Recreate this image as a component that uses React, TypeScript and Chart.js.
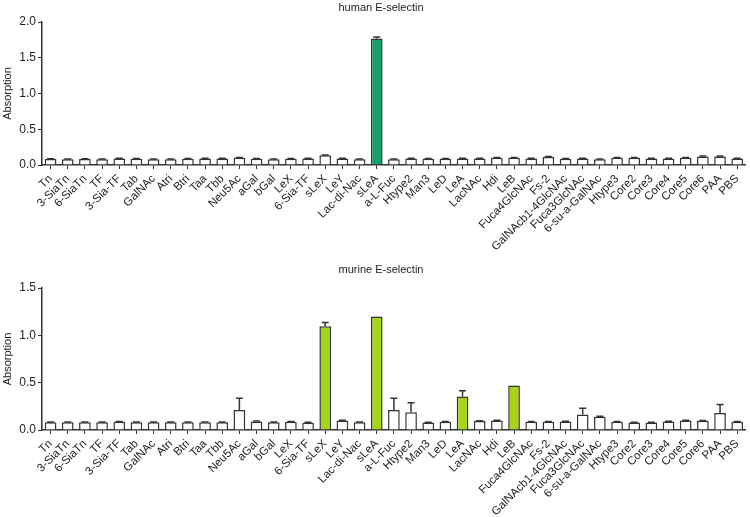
import React, { useEffect, useRef } from "react";
import { Chart, registerables } from "chart.js";

Chart.register(...registerables);

const categories = [
  "Tn", "3-SiaTn", "6-SiaTn", "TF", "3-Sia-TF", "Tab", "GalNAc", "Atri", "Btri", "Taa",
  "Tbb", "Neu5Ac", "aGal", "bGal", "LeX", "6-Sia-TF", "sLeX", "LeY", "Lac-di-Nac", "sLeA",
  "a-L-Fuc", "Htype2", "Man3", "LeD", "LeA", "LacNAc", "Hdi", "LeB", "Fuca4GlcNAc", "Fs-2",
  "GalNAcb1-4GlcNAc", "Fuca3GlcNAc", "6-su-a-GalNAc", "Htype3", "Core2", "Core3", "Core4", "Core5", "Core6", "PAA",
  "PBS",
];

const humanValues = [
  0.085, 0.082, 0.085, 0.082, 0.09, 0.088, 0.082, 0.082, 0.088, 0.09,
  0.09, 0.1, 0.088, 0.082, 0.088, 0.09, 0.135, 0.09, 0.082, 1.77,
  0.08, 0.09, 0.088, 0.088, 0.092, 0.092, 0.1, 0.1, 0.092, 0.112,
  0.088, 0.092, 0.08, 0.1, 0.1, 0.092, 0.09, 0.1, 0.12, 0.12,
  0.09,
];
const humanErrors = [
  0.004, 0.003, 0.004, 0.003, 0.005, 0.004, 0.003, 0.003, 0.004, 0.004,
  0.004, 0.005, 0.004, 0.003, 0.004, 0.004, 0.005, 0.004, 0.003, 0.02,
  0.003, 0.004, 0.004, 0.004, 0.004, 0.004, 0.005, 0.005, 0.004, 0.006,
  0.004, 0.004, 0.003, 0.005, 0.005, 0.004, 0.004, 0.005, 0.005, 0.005,
  0.004,
];
const humanHighlight = ["sLeA"];

const murineValues = [
  0.083, 0.083, 0.083, 0.083, 0.087, 0.083, 0.083, 0.083, 0.083, 0.083,
  0.083, 0.21, 0.09, 0.083, 0.087, 0.077, 1.096, 0.1, 0.083, 1.2,
  0.21, 0.188, 0.08, 0.087, 0.355, 0.094, 0.1, 0.47, 0.087, 0.087,
  0.09, 0.164, 0.14, 0.087, 0.08, 0.08, 0.09, 0.1, 0.097, 0.18,
  0.087,
];
const murineErrors = [
  0.002, 0.002, 0.002, 0.002, 0.004, 0.002, 0.002, 0.002, 0.002, 0.002,
  0.002, 0.125, 0.005, 0.002, 0.004, 0.004, 0.04, 0.002, 0.002, 0,
  0.125, 0.1, 0.002, 0.004, 0.06, 0.004, 0.004, 0, 0.002, 0.003,
  0.003, 0.066, 0.006, 0.002, 0.002, 0.002, 0.003, 0.003, 0.003, 0.09,
  0.003,
];
const murineHighlight = ["sLeX", "sLeA", "LeA", "LeB"];

const humanTicks = [0, 0.5, 1.0, 1.5, 2.0];
const murineTicks = [0, 0.5, 1.0, 1.5];

const AXIS = "#333333";
const FONT = "Arial, 'Liberation Sans', sans-serif";

const errorBarPlugin = {
  id: "errorBars",
  afterDatasetsDraw(chart: any, _args: any, opts: any) {
    const errs: number[] = opts.errors || [];
    const meta = chart.getDatasetMeta(0);
    const ys = chart.scales.y;
    const data = chart.data.datasets[0].data as number[];
    const ctx = chart.ctx;
    ctx.save();
    ctx.strokeStyle = AXIS;
    ctx.lineWidth = 1.5;
    meta.data.forEach((el: any, i: number) => {
      const e = errs[i] || 0;
      if (!e) return;
      const x = el.x;
      const y0 = ys.getPixelForValue(data[i]);
      const y1 = ys.getPixelForValue(data[i] + e);
      ctx.beginPath();
      ctx.moveTo(x, y0);
      ctx.lineTo(x, y1);
      ctx.moveTo(x - 3.5, y1);
      ctx.lineTo(x + 3.5, y1);
      ctx.stroke();
    });
    ctx.restore();
  },
};

const titlePlugin = {
  id: "panelTitle",
  afterDraw(chart: any, _args: any, opts: any) {
    const ctx = chart.ctx;
    ctx.save();
    ctx.fillStyle = "#222";
    ctx.font = `11px ${FONT}`;
    ctx.textAlign = "center";
    ctx.textBaseline = "middle";
    ctx.fillText(opts.text, opts.x, opts.y);
    ctx.restore();
  },
};

function Panel(props: {
  values: number[];
  errors: number[];
  highlight: string[];
  color: string;
  title: string;
  ticks: number[];
  top: number;
  height: number;
  padTop: number;
  xHeight: number;
  titleY: number;
}) {
  const ref = useRef<HTMLCanvasElement | null>(null);
  useEffect(() => {
    if (!ref.current) return;
    const colors = categories.map((c) => (props.highlight.includes(c) ? props.color : "#ffffff"));
    const maxV = props.ticks[props.ticks.length - 1];
    const chart = new Chart(ref.current, {
      type: "bar",
      data: {
        labels: categories,
        datasets: [
          {
            data: props.values,
            backgroundColor: colors,
            borderColor: AXIS,
            borderWidth: 1.5,
            barPercentage: 0.68,
            categoryPercentage: 1,
          },
        ],
      },
      plugins: [errorBarPlugin, titlePlugin],
      options: {
        animation: false,
        responsive: false,
        maintainAspectRatio: false,
        layout: { padding: { top: props.padTop, right: 4, left: 0, bottom: 0 } },
        plugins: {
          legend: { display: false },
          tooltip: { enabled: false },
          title: { display: false },
          errorBars: { errors: props.errors },
          panelTitle: { text: props.title, x: 381, y: props.titleY },
        } as any,
        scales: {
          x: {
            offset: true,
            grid: {
              display: true,
              drawOnChartArea: false,
              drawTicks: true,
              tickLength: 4,
              color: AXIS,
              lineWidth: 1,
              offset: false,
            },
            border: { display: true, color: AXIS, width: 1.5 },
            ticks: {
              autoSkip: false,
              maxRotation: 45,
              minRotation: 45,
              padding: 3,
              color: "#222",
              font: { family: FONT, size: 11.5 },
            },
            afterFit: (s: any) => {
              s.height = props.xHeight;
            },
          },
          y: {
            min: 0,
            max: maxV,
            afterBuildTicks: (s: any) => {
              s.ticks = props.ticks.map((v) => ({ value: v }));
            },
            grid: {
              display: true,
              drawOnChartArea: false,
              drawTicks: true,
              tickLength: 4,
              color: AXIS,
              lineWidth: 1,
            },
            border: { display: true, color: AXIS, width: 1.5 },
            ticks: {
              padding: 2,
              color: "#222",
              font: { family: FONT, size: 12 },
              callback: (v: any) => Number(v).toFixed(1),
            },
            title: {
              display: true,
              text: "Absorption",
              color: "#222",
              font: { family: FONT, size: 11 },
              padding: { top: 1, bottom: 0 },
            },
            afterFit: (s: any) => {
              s.width = 42;
            },
          },
        },
      },
    });
    return () => chart.destroy();
  }, []);
  return (
    <div style={{ position: "absolute", left: 0, top: props.top, width: 750, height: props.height }}>
      <canvas ref={ref} width={750} height={props.height} style={{ width: 750, height: props.height, display: "block" }} />
    </div>
  );
}

export default function App() {
  return (
    <div style={{ position: "absolute", left: 0, top: 0, width: 750, height: 517, background: "#fff" }}>
      <Panel
        values={humanValues}
        errors={humanErrors}
        highlight={humanHighlight}
        color="#16a06b"
        title="human E-selectin"
        ticks={humanTicks}
        top={0}
        height={258}
        padTop={22}
        xHeight={93}
        titleY={8}
      />
      <Panel
        values={murineValues}
        errors={murineErrors}
        highlight={murineHighlight}
        color="#a6d51a"
        title="murine E-selectin"
        ticks={murineTicks}
        top={258}
        height={259}
        padTop={30}
        xHeight={87}
        titleY={12}
      />
    </div>
  );
}
